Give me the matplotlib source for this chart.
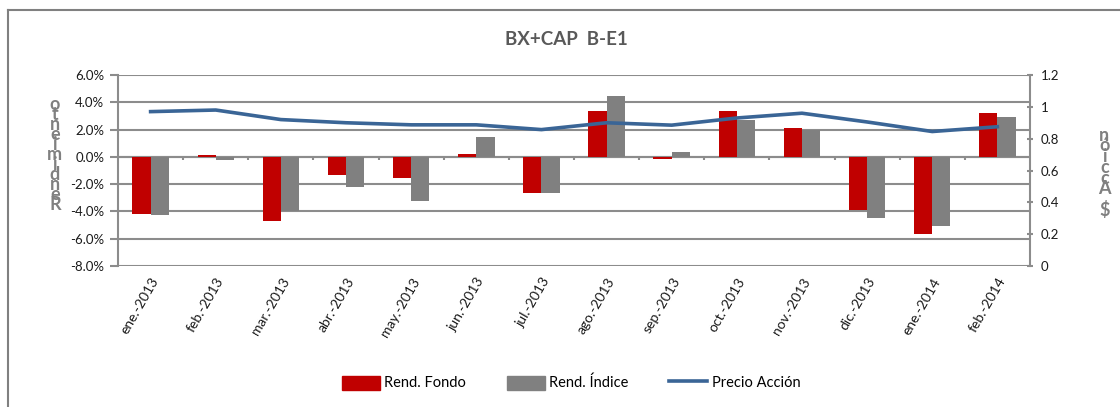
import numpy as np
import matplotlib.pyplot as plt
from matplotlib.lines import Line2D
from matplotlib.patches import Patch

#-------------- data ------------------
meses = ["ene.-2013", "feb.-2013", "mar.-2013", "abr.-2013", "may.-2013", "jun.-2013",
         "jul.-2013", "ago.-2013", "sep.-2013", "oct.-2013", "nov.-2013", "dic.-2013",
         "ene.-2014", "feb.-2014"]
rend_fondo = [-4.2, 0.12, -4.7, -1.35, -1.55, 0.22, -2.64, 3.38, -0.17, 3.38, 2.1, -3.92, -5.68, 3.18]
rend_indice = [-4.28, -0.24, -3.99, -2.23, -3.2, 1.49, -2.64, 4.48, 0.34, 2.69, 1.96, -4.48, -5.07, 2.89]
precio_accion = [0.97, 0.98, 0.92, 0.90, 0.887, 0.887, 0.857, 0.90, 0.885, 0.93, 0.96, 0.905, 0.845, 0.875]

#-------------- style ------------------
plt.rcParams['font.family'] = ['Lato', 'DejaVu Sans']
rojo = '#C00000'
gris = '#808080'
azul = '#3A6596'
grid_c = '#8C8C8C'

fig = plt.figure(figsize=(11.2, 4.07), dpi=100)
ax = fig.add_axes([0.1054, 0.3464, 0.8142, 0.4693])
ax2 = ax.twinx()

x = np.arange(len(meses))
w = 0.28
ax.bar(x - w / 2, rend_fondo, width=w, color=rojo, zorder=3)
ax.bar(x + w / 2, rend_indice, width=w, color=gris, zorder=3)
ax2.plot(x, precio_accion, color=azul, lw=2.6, zorder=4)

ax.set_xlim(-0.5, len(meses) - 0.5)
ax.set_ylim(-8, 6)
ax.set_yticks(np.arange(-8, 7, 2))
ax.set_yticklabels([f"{v:.1f}%" for v in np.arange(-8, 7, 2)])
ax2.set_ylim(0, 1.2)
ax2.set_yticks(np.arange(0, 1.21, 0.2))
ax2.set_yticklabels(["0", "0.2", "0.4", "0.6", "0.8", "1", "1.2"])

ax.yaxis.grid(True, color=grid_c, lw=1.5, zorder=0)
ax.set_axisbelow(True)
# category axis line at zero with small ticks between months
ax.axhline(0, color=grid_c, lw=1.5, zorder=2)
ax.vlines(x[:-1] + 0.5, -0.25, 0, color=grid_c, lw=1.5, zorder=2)

for a in (ax, ax2):
    for s in a.spines.values():
        s.set_visible(False)
ax.spines['left'].set_visible(True)
ax.spines['left'].set_color(grid_c)
ax.spines['left'].set_linewidth(1.5)
ax2.spines['right'].set_visible(True)
ax2.spines['right'].set_color(grid_c)
ax2.spines['right'].set_linewidth(1.5)

ax.tick_params(axis='y', length=6, width=1.5, color=grid_c, labelsize=9.5, labelcolor='#1a1a1a', pad=4)
ax2.tick_params(axis='y', length=5, width=1.5, color=grid_c, labelsize=9.5, labelcolor='#1a1a1a',
                direction='inout', pad=5)
ax.set_xticks(x)
ax.set_xticklabels(meses, rotation=60, ha='right', rotation_mode='anchor', fontsize=10, color='#1a1a1a')
ax.tick_params(axis='x', length=0, pad=7)

# title
fig.text(0.506, 0.902, "BX+CAP  B-E1", ha='center', va='center', fontsize=13.5,
         fontweight='bold', color='#595959')

# stacked axis titles
fig.text(0.049, 0.62, "\n".join(reversed("Rendimiento")), ha='center', va='center',
         fontsize=13, fontweight='bold', color=gris, linespacing=0.5)
fig.text(0.986, 0.575, "\n".join(reversed("$ Acción")), ha='center', va='center',
         fontsize=13, fontweight='bold', color=gris, linespacing=0.55)

# legend
handles = [Patch(color=rojo), Patch(color=gris), Line2D([0], [0], color=azul, lw=2.6)]
fig.legend(handles, ["Rend. Fondo", "Rend. Índice", "Precio Acción"], loc='center',
           bbox_to_anchor=(0.51, 0.059), ncol=3, frameon=False, fontsize=10.5,
           handlelength=2.6, handleheight=1.1, handletextpad=0.3, columnspacing=2.8)

# outer frame
fig.add_artist(Line2D([8 / 1120, 1], [1 - 10 / 407, 1 - 10 / 407], color=gris, lw=1.5))
fig.add_artist(Line2D([8 / 1120, 8 / 1120], [0, 1 - 10 / 407], color=gris, lw=1.5))

plt.savefig("out.png", dpi=100)
